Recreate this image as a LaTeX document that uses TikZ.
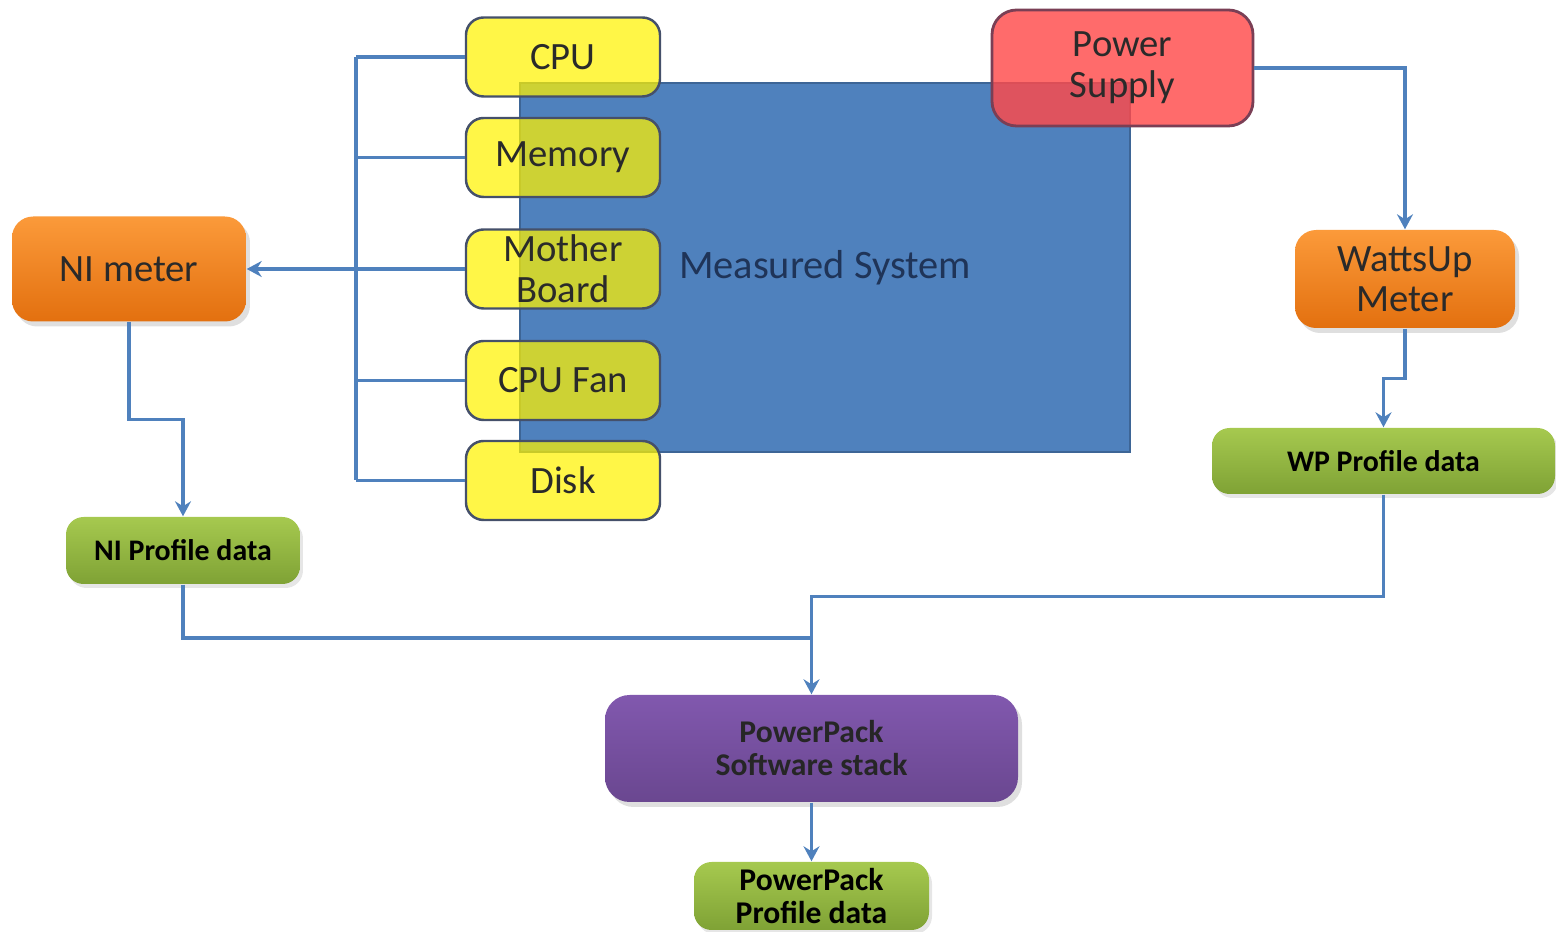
\documentclass[tikz,border=0pt]{standalone}
\usepackage{fontspec}
\setmainfont{Carlito}
\usepackage{tikz}
\usetikzlibrary{arrows.meta,shadows}

\definecolor{sysblue}{HTML}{4F81BD}
\definecolor{sysedge}{HTML}{3D6596}
\definecolor{sysink}{HTML}{1F3458}
\definecolor{partedge}{HTML}{45506A}
\definecolor{psred}{HTML}{FF4A4A}
\definecolor{psedge}{HTML}{7A3F55}
\definecolor{metertop}{HTML}{FB9A3A}
\definecolor{meterbot}{HTML}{E3700F}
\definecolor{datatop}{HTML}{A6C94F}
\definecolor{databot}{HTML}{7FA235}
\definecolor{stacktop}{HTML}{8158AE}
\definecolor{stackbot}{HTML}{6A4790}
\definecolor{ink}{HTML}{2A2A2A}

\tikzset{
    part/.style={draw=partedge, line width=0.7pt, fill=yellow, fill opacity=0.72,
        text opacity=1, rounded corners=5pt, minimum width=19.4mm,
        minimum height=7.9mm, align=center, text=ink, inner sep=0pt,
        font=\fontsize{11}{11.7}\selectfont},
    meter/.style={rounded corners=6pt, top color=metertop, bottom color=meterbot,
        drop shadow={opacity=0.25,shadow xshift=0.4mm,shadow yshift=-0.5mm},
        align=center, text=ink, inner sep=0pt, font=\fontsize{11}{11.5}\selectfont},
    data/.style={rounded corners=5pt, top color=datatop, bottom color=databot,
        drop shadow={opacity=0.2,shadow xshift=0.3mm,shadow yshift=-0.4mm},
        align=center, text=black, inner sep=0pt,
        font=\bfseries\fontsize{8.5}{10.5}\selectfont},
    wire/.style={draw=sysblue, line width=0.9pt},
    flow/.style={wire, -{Stealth[length=1.5mm,width=1.6mm,inset=0.5mm]}},
}

\begin{document}
\begin{tikzpicture}[x=0.1mm,y=-0.1mm]
    \useasboundingbox (0,0) rectangle (1556,932);

    % the box being measured
    \node[draw=sysedge, line width=0.6pt, fill=sysblue, minimum width=61mm,
        minimum height=36.9mm, inner sep=0pt] (msys) at (825,267.5) {};
    \node[text=sysink, font=\fontsize{11.5}{13}\selectfont] (msyslabel) at (825,268) {Measured System};

    % its parts
    \node[part] (cpu)  at (563,57)  {CPU};
    \node[part] (mem)  at (563,157.5) {Memory};
    \node[part] (mb)   at (563,269) {Mother\\Board};
    \node[part] (fan)  at (563,380.5) {CPU Fan};
    \node[part] (disk) at (563,480.5) {Disk};

    \node[draw=psedge, line width=0.8pt, fill=psred, fill opacity=0.82, text opacity=1,
        rounded corners=7pt, minimum width=26.1mm, minimum height=11.6mm,
        align=center, text=ink, inner sep=0pt, font=\fontsize{11}{11.7}\selectfont]
        (ps) at (1122.5,68) {Power\\Supply};

    % meters and data
    \node[meter, minimum width=23.4mm, minimum height=10.5mm] (ni) at (129,269) {NI meter};
    \node[meter, minimum width=22mm, minimum height=9.8mm] (wu) at (1405,279) {WattsUp\\Meter};
    \node[data, minimum width=23.4mm, minimum height=6.7mm] (niprof) at (183,550.5) {NI Profile data};
    \node[data, minimum width=34.3mm, minimum height=6.6mm] (wpprof) at (1383.5,461) {WP Profile data};
    \node[rounded corners=7pt, top color=stacktop, bottom color=stackbot,
        drop shadow={opacity=0.25,shadow xshift=0.4mm,shadow yshift=-0.5mm},
        minimum width=41.3mm, minimum height=10.7mm, align=center, inner sep=0pt,
        text=black!85, font=\bfseries\fontsize{9}{9.4}\selectfont]
        (pp) at (811.5,748.5) {PowerPack\\Software stack};
    \node[data, minimum width=23.5mm, minimum height=6.8mm,
        font=\bfseries\fontsize{9}{9.2}\selectfont] (ppprof) at (811.5,896) {PowerPack\\Profile data};

    % bus on the left
    \coordinate (bustop) at (356,57);
    \coordinate (busbot) at (356,480.5);
    \draw[wire] (bustop) -- (busbot);
    \foreach \p in {cpu,mem,mb,fan,disk}
        \draw[wire] (\p.west) -- (\p.west -| bustop);
    \draw[flow] (mb.west -| bustop) -- (ni.east);

    % the flows
    \draw[flow] (ni.south) -- ++(0,97) -| (niprof.north);
    \draw[flow] (ps.east) -| (wu.north);
    \draw[flow] (wu.south) -- ++(0,50) -| (wpprof.north);
    \coordinate (join) at (pp.north |- 0,638);
    \draw[flow] (wpprof.south) -- ++(0,102) -| (pp.north);
    \draw[wire] (niprof.south) |- (join);
    \draw[flow] (pp.south) -- (ppprof.north);

\end{tikzpicture}
\end{document}
